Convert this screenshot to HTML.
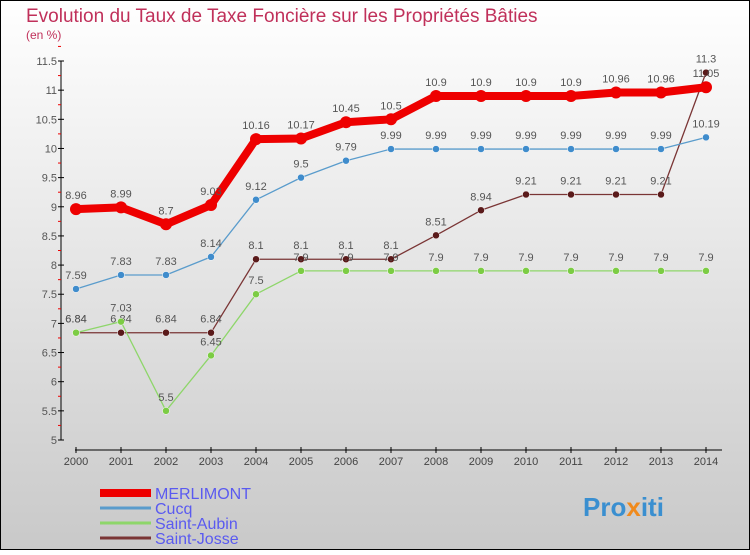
<!DOCTYPE html>
<html><head><meta charset="utf-8"><style>
body{margin:0}
#c{width:750px;height:550px;position:relative;font-family:"Liberation Sans",sans-serif}
</style></head><body>
<div id="c">
<svg id="s" width="750" height="550" xmlns="http://www.w3.org/2000/svg">
<defs><linearGradient id="bg" x1="0" y1="0" x2="0" y2="1"><stop offset="0" stop-color="#ffffff"/><stop offset="1" stop-color="#c9c9c9"/></linearGradient></defs>
<rect x="0.5" y="0.5" width="749" height="549" fill="url(#bg)" stroke="#000"/>
<text x="26" y="22" font-size="19" fill="#c0305a">Evolution du Taux de Taxe Foncière sur les Propriétés Bâties</text>
<text x="26" y="39" font-size="12" fill="#c0305a">(en %)</text>
<g id="axes"></g><g id="series"></g><g id="legend"></g>
<text x="583" y="516" font-size="26" font-weight="bold" fill="#3a8fd0">Pro<tspan fill="#f08a1c">x</tspan>iti</text>
</svg></div>
<script>
const years=[2000,2001,2002,2003,2004,2005,2006,2007,2008,2009,2010,2011,2012,2013,2014];
const merlimont=[8.96,8.99,8.7,9.03,10.16,10.17,10.45,10.5,10.9,10.9,10.9,10.9,10.96,10.96,11.05];
const cucq=[7.59,7.83,7.83,8.14,9.12,9.5,9.79,9.99,9.99,9.99,9.99,9.99,9.99,9.99,10.19];
const saintAubin=[6.84,7.03,5.5,6.45,7.5,7.9,7.9,7.9,7.9,7.9,7.9,7.9,7.9,7.9,7.9];
const saintJosse=[6.84,6.84,6.84,6.84,8.1,8.1,8.1,8.1,8.51,8.94,9.21,9.21,9.21,9.21,11.3];
const yTicks=[5,5.5,6,6.5,7,7.5,8,8.5,9,9.5,10,10.5,11,11.5];
const NS="http://www.w3.org/2000/svg";
const X=i=>76+i*45, Y=v=>440-(v-5)*(379/6.5);
function el(t,a,p){const e=document.createElementNS(NS,t);for(const k in a)e.setAttribute(k,a[k]);p.appendChild(e);return e;}
const ax=document.getElementById('axes');
let a=el('line',{x1:61,y1:61,x2:61,y2:440,stroke:'#000'},ax);


yTicks.forEach(v=>{el('line',{x1:58,x2:64,y1:Y(v),y2:Y(v),stroke:'#000'},ax);
 el('line',{x1:58,x2:61,y1:Y(v+0.25),y2:Y(v+0.25),stroke:'#e00'},ax);
 const t=el('text',{x:57,y:Y(v)+4,'text-anchor':'end','font-size':11,fill:'#555'},ax);t.textContent=v;
 
 });
a=el('line',{x1:75,y1:450,x2:722,y2:450,stroke:'#000'},ax);


years.forEach((y,i)=>{el('line',{x1:X(i),x2:X(i),y1:447,y2:453,stroke:'#000'},ax);
 const t=el('text',{x:X(i),y:465,'text-anchor':'middle','font-size':11,fill:'#444'},ax);t.textContent=y;
 
 });
const series=[
 {name:'saint-josse',label:'Saint-Josse',d:saintJosse,c:'#7a3535',w:1.3,r:3.5,f:'#5a1a1a'},
 {name:'saint-aubin',label:'Saint-Aubin',d:saintAubin,c:'#8ed66a',w:1.3,r:3.5,f:'#7ccc44'},
 {name:'cucq',label:'Cucq',d:cucq,c:'#5a9ccc',w:1.3,r:3.5,f:'#3f8ccc'},
 {name:'merlimont',label:'MERLIMONT',d:merlimont,c:'#ee0000',w:8,r:6,f:'#ee0000'}];
const sg=document.getElementById('series');
series.forEach(s=>{
 const g=el('g',{},sg);
 
 
 el('polyline',{points:s.d.map((v,i)=>X(i)+','+Y(v)).join(' '),fill:'none',stroke:s.c,'stroke-width':s.w,'stroke-linejoin':'round'},g);
 s.d.forEach((v,i)=>{const p=el('circle',{cx:X(i),cy:Y(v),r:s.r,fill:s.f,stroke:s.name==='merlimont'?'none':'#fff','stroke-width':0.5},g);
  
  
  const t=el('text',{x:X(i),y:Y(v)-10,'text-anchor':'middle','font-size':11,fill:'#555'},g);t.textContent=v;
  
  });
});
const lg=document.getElementById('legend');
[...series].reverse().forEach((s,i)=>{const y=493+i*15;
 const g=el('g',{},lg);
 
 
 el('line',{x1:100,x2:151,y1:y,y2:y,stroke:s.c,'stroke-width':s.name==='merlimont'?8:3},g);
 const t=el('text',{x:155,y:y+6,'font-size':16,fill:'#5a5af0'},g);t.textContent=s.label;});
</script>
</body></html>
